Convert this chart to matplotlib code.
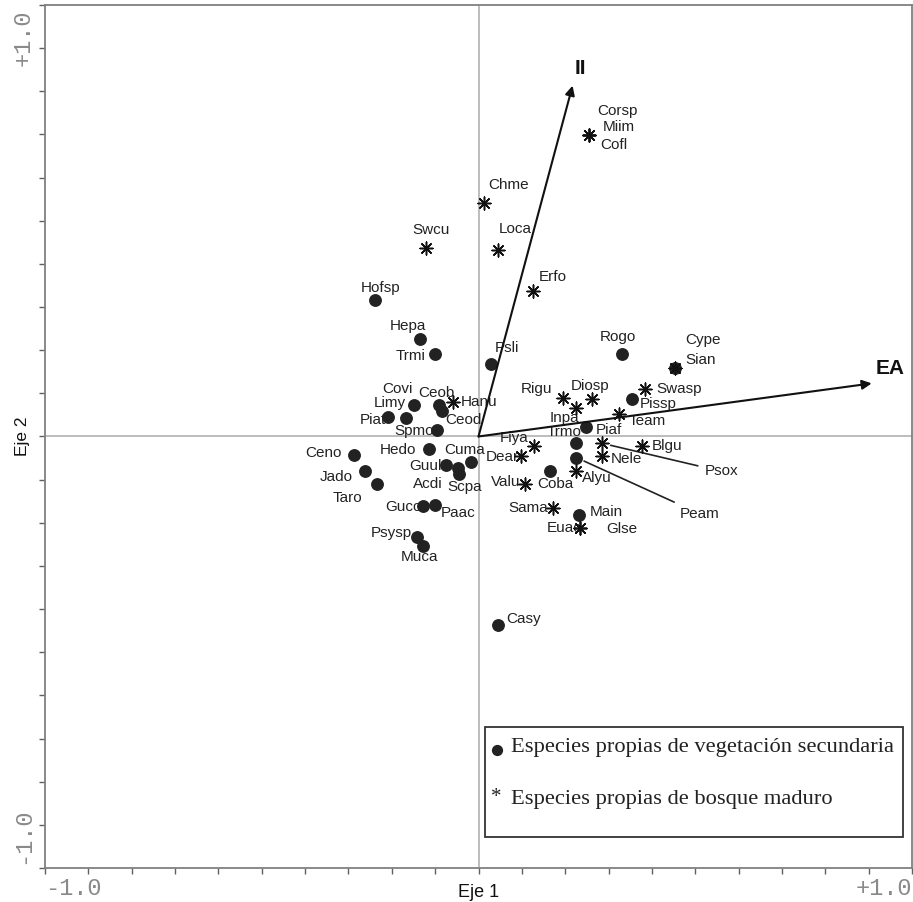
import matplotlib
matplotlib.use('Agg')
import matplotlib.pyplot as plt
from matplotlib.patches import Rectangle
import numpy as np

# Especies propias de vegetacion secundaria (circulos)
sec_names = ['Hofsp', 'Hepa', 'Trmi', 'Psli', 'Covi', 'Ceob', 'Ceod', 'Limy', 'Piat',
             'Spmo', 'Hedo', 'Ceno', 'Jado', 'Taro', 'Guul', 'Cuma', 'Acdi', 'Scpa',
             'Guco', 'Paac', 'Psysp', 'Muca', 'Casy', 'Rogo', 'Sian', 'Pissp', 'Piaf',
             'Trmo', 'Peam', 'Coba', 'Main']
sec_x = [-0.238, -0.134, -0.101, 0.028, -0.148, -0.092, -0.085, -0.168, -0.208,
         -0.095, -0.115, -0.288, -0.261, -0.235, -0.076, -0.018, -0.048, -0.046,
         -0.127, -0.101, -0.141, -0.129, 0.044, 0.332, 0.454, 0.353, 0.249,
         0.226, 0.226, 0.166, 0.231]
sec_y = [0.317, 0.225, 0.190, 0.169, 0.074, 0.074, 0.058, 0.042, 0.044,
         0.016, -0.028, -0.042, -0.079, -0.109, -0.067, -0.060, -0.072, -0.088,
         -0.160, -0.158, -0.234, -0.253, -0.436, 0.190, 0.158, 0.086, 0.023,
         -0.016, -0.049, -0.081, -0.181]

# Especies propias de bosque maduro (asteriscos)
mad_names = ['Corsp', 'Miim', 'Cofl', 'Chme', 'Swcu', 'Loca', 'Erfo', 'Cype', 'Swasp',
             'Rigu', 'Diosp', 'Inpa', 'Team', 'Hanu', 'Psox', 'Blgu', 'Fiya', 'Dear',
             'Nele', 'Alyu', 'Valu', 'Sama', 'Euac', 'Glse']
mad_x = [0.256, 0.256, 0.256, 0.012, -0.120, 0.044, 0.125, 0.454, 0.385,
         0.196, 0.261, 0.224, 0.323, -0.058, 0.286, 0.378, 0.127, 0.099,
         0.286, 0.226, 0.108, 0.171, 0.233, 0.233]
mad_y = [0.698, 0.698, 0.698, 0.542, 0.436, 0.433, 0.336, 0.158, 0.109,
         0.090, 0.088, 0.067, 0.053, 0.079, -0.016, -0.023, -0.023, -0.046,
         -0.046, -0.079, -0.111, -0.165, -0.211, -0.211]

# Variables ambientales
env_names = ['II', 'EA']
env_x = [0.217, 0.907]
env_y = [0.813, 0.123]

# desplazamiento de etiquetas (pixeles)
offsets = {
    'Hofsp': (5, 12), 'Hepa': (-12, 13), 'Trmi': (-24, -2), 'Psli': (16, 16),
    'Covi': (-17, 16), 'Ceob': (-2, 12), 'Ceod': (22, -9), 'Limy': (-16, 15),
    'Piat': (-15, -3), 'Spmo': (-23, -1), 'Hedo': (-31, -1), 'Ceno': (-30, 2),
    'Jado': (-29, -6), 'Taro': (-29, -14), 'Guul': (-20, -1), 'Cuma': (-6, 12),
    'Acdi': (-30, -16), 'Scpa': (6, -13), 'Guco': (-20, -1), 'Paac': (23, -8),
    'Psysp': (-26, 4), 'Muca': (-3, -11), 'Casy': (26, 6), 'Rogo': (-5, 17),
    'Sian': (25, 8), 'Pissp': (27, -5), 'Piaf': (22, -3), 'Trmo': (-12, 11),
    'Peam': (123, -56), 'Coba': (5, -13), 'Main': (28, 3),
    'Corsp': (28, 24), 'Miim': (29, 8), 'Cofl': (24, -10), 'Chme': (25, 18),
    'Swcu': (5, 18), 'Loca': (18, 21), 'Erfo': (20, 14), 'Cype': (28, 28),
    'Swasp': (34, 0), 'Rigu': (-27, 9), 'Diosp': (-2, 13), 'Inpa': (-11, -10),
    'Team': (29, -7), 'Hanu': (26, 0), 'Psox': (119, -28), 'Blgu': (25, 0),
    'Fiya': (-19, 8), 'Dear': (-19, -1), 'Nele': (24, -3), 'Alyu': (20, -7),
    'Valu': (-20, 2), 'Sama': (-24, 0), 'Euac': (-15, 0), 'Glse': (42, -1),
}
leaders = ['Psox', 'Peam']

fig = plt.figure(figsize=(9.13, 9.02), dpi=100, facecolor='white')
ax = fig.add_axes([0.0493, 0.0377, 0.9496, 0.9568])
ax.set_xlim(-1, 1)
ax.set_ylim(-1, 1)

# cruz central
ax.axhline(0, color='#b8b8b8', lw=1.3, zorder=0)
ax.axvline(0, color='#b8b8b8', lw=1.3, zorder=0)

star = (8, 2, 0)
ax.scatter(sec_x, sec_y, s=68, color='#222222', zorder=3)
ax.scatter(mad_x, mad_y, s=85, marker=star, color='#111111', linewidths=1.1, zorder=4)

lab_font = dict(family='Liberation Sans', size=11, color='#222222')
for names, xs, ys in [(sec_names, sec_x, sec_y), (mad_names, mad_x, mad_y)]:
    for n, x, y in zip(names, xs, ys):
        dx, dy = offsets[n]
        if n in leaders:
            ax.annotate(n, (x, y), xytext=(dx, dy), textcoords='offset pixels',
                        ha='center', va='center', **lab_font,
                        arrowprops=dict(arrowstyle='-', color='#222222', lw=1.2,
                                        shrinkA=3, shrinkB=6))
        else:
            ax.annotate(n, (x, y), xytext=(dx, dy), textcoords='offset pixels',
                        ha='center', va='center', **lab_font)

# vectores
for n, x, y in zip(env_names, env_x, env_y):
    ax.annotate('', xy=(x, y), xytext=(0, 0),
                arrowprops=dict(arrowstyle='-|>', color='#111111', lw=1.5,
                                mutation_scale=14, shrinkA=0, shrinkB=0), zorder=5)
    ax.annotate(n, (x, y), xytext=(8 if n == 'II' else 18, 17 if n == 'II' else 15),
                textcoords='offset pixels', ha='center', va='center',
                family='Liberation Sans', fontsize=15, fontweight='bold', color='#111111')

# ejes
for sp in ax.spines.values():
    sp.set_color('#808080')
    sp.set_linewidth(1.3)
ticks = np.arange(-1, 1.001, 0.1)
ax.set_xticks(ticks)
ax.set_yticks(ticks)
ax.set_xticklabels([])
ax.set_yticklabels([])
ax.tick_params(direction='out', length=4, width=1, color='#606060')

mono = dict(family='Liberation Mono', size=17, color='#8a8a8a')
ax.text(0.0, -0.031, '-1.0', transform=ax.transAxes, ha='left', va='baseline', fontdict=mono)
ax.text(1.0, -0.031, '+1.0', transform=ax.transAxes, ha='right', va='baseline', fontdict=mono)
ax.text(-0.012, 0.995, '+1.0', transform=ax.transAxes, ha='right', va='top',
        rotation=90, fontdict=mono)
ax.text(-0.012, 0.005, '-1.0', transform=ax.transAxes, ha='right', va='bottom',
        rotation=90, fontdict=mono)
ax.text(0.5, -0.018, 'Eje 1', transform=ax.transAxes, ha='center', va='top',
        family='Liberation Sans', fontsize=13, color='#111111')
ax.text(-0.0254, 0.5, 'Eje 2', transform=ax.transAxes, ha='center', va='center',
        rotation=90, family='Liberation Sans', fontsize=12.5, color='#111111')

# leyenda
ax.add_patch(Rectangle((0.5075, 0.0359), 0.4821, 0.1275, transform=ax.transAxes,
                       facecolor='white', edgecolor='#333333', lw=1.3, zorder=6))
ax.scatter([0.521], [0.137], s=50, color='#222222', transform=ax.transAxes, zorder=7)
ax.text(0.521, 0.082, '*', transform=ax.transAxes, ha='center', va='center',
        family='Liberation Serif', fontsize=15, color='#222222', zorder=7)
leg_font = dict(family='Liberation Serif', size=16.2, color='#222222')
ax.text(0.537, 0.140, 'Especies propias de vegetación secundaria', transform=ax.transAxes,
        ha='left', va='center', fontdict=leg_font, zorder=7)
ax.text(0.537, 0.0788, 'Especies propias de bosque maduro', transform=ax.transAxes,
        ha='left', va='center', fontdict=leg_font, zorder=7)

fig.savefig('out.png', dpi=100, facecolor='white')
